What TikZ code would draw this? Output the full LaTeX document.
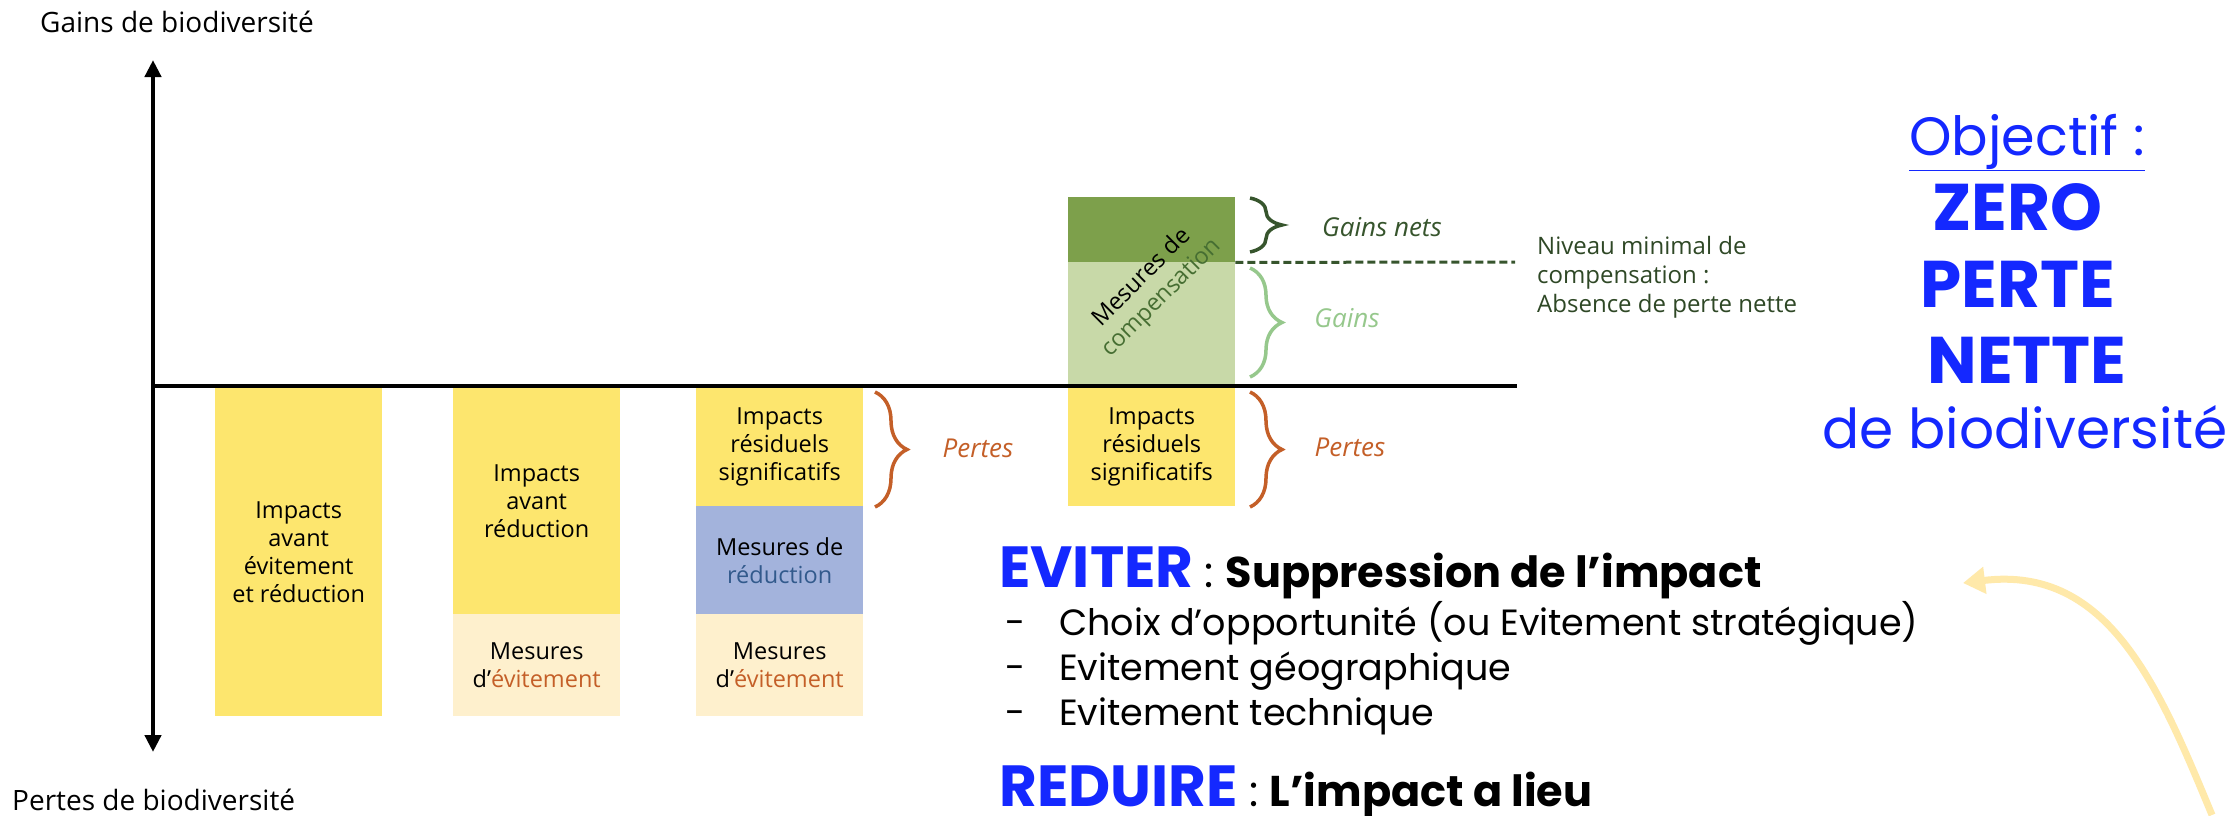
\documentclass[tikz,border=0pt]{standalone}
\usepackage{fontspec}
\setmainfont{Open Sans}
\newfontfamily\popfont{Poppins}
\usepackage{xcolor}
\usetikzlibrary{arrows.meta}
\usetikzlibrary{decorations.pathreplacing}
\usetikzlibrary{positioning}
\definecolor{jaune}{RGB}{253,230,110}
\definecolor{creme}{RGB}{254,240,205}
\definecolor{bleured}{RGB}{163,179,220}
\definecolor{bleutxt}{RGB}{50,90,140}
\definecolor{vertfonce}{RGB}{125,160,75}
\definecolor{vertclair}{RGB}{200,217,168}
\definecolor{vertcomp}{RGB}{70,110,50}
\definecolor{vertnet}{RGB}{55,85,45}
\definecolor{vertgain}{RGB}{150,200,140}
\definecolor{brique}{RGB}{196,95,40}
\definecolor{bleuobj}{RGB}{20,40,255}
\definecolor{flecheJ}{RGB}{255,233,170}
\tikzstyle{barre}=[rectangle,align=center,inner sep=0,minimum width=167,anchor=north west,font=\fontsize{23.5}{28}\selectfont]
\tikzstyle{axe}=[draw,line width=4.5,black,>={Triangle[length=17pt,width=16pt]}]
\tikzstyle{accolade}=[draw,line width=3.5,decorate,decoration={brace,amplitude=32pt}]
\tikzstyle{etiq}=[font=\fontsize{26}{30}\selectfont\itshape]
\tikzstyle{axetxt}=[font=\fontsize{28}{32}\selectfont,anchor=base west,inner sep=0]
\tikzstyle{niveau}=[draw,line width=3,vertnet,dash pattern=on 8pt off 4pt]
\tikzstyle{objectif}=[text=bleuobj,anchor=base,inner sep=0]
\tikzstyle{titre}=[anchor=base west,inner sep=0,font=\popfont\fontsize{43}{48}\selectfont]
\tikzstyle{liste}=[anchor=base west,inner sep=0,font=\popfont\fontsize{36.5}{42}\selectfont]
\tikzstyle{fleche}=[draw,line width=7,flecheJ,>={Triangle[length=22pt,width=26pt]}]

\begin{document}
\begin{tikzpicture}[x=1pt,y=-1pt]
\useasboundingbox[fill=white] (0,0) rectangle (2238,815);
\begin{scope}
	\coordinate (haut) at (153,60);
	\coordinate (bas) at (153,752);
	\coordinate (orig) at (153,386);
	\coordinate (fin) at (1517,386);
	\coordinate (seuil) at (1515,262);

	\node[axetxt] (gains) at (40,32) {Gains de biodiversité};
	\node[axetxt] (pertes) at (12,810) {Pertes de biodiversité};

	\node[barre,fill=jaune,minimum height=328] (b1) at (215,388) {Impacts\\avant\\évitement\\et réduction};

	\node[barre,fill=jaune,minimum height=226] (b2i) at (453,388) {Impacts\\avant\\réduction};
	\node[barre,fill=creme,minimum height=102] (b2e) at (453,614) {Mesures\\d’{\color{brique}évitement}};

	\node[barre,fill=jaune,minimum height=118] (b3i) at (696,388) {Impacts\\résiduels\\significatifs};
	\node[barre,fill=bleured,minimum height=108] (b3r) at (696,506) {Mesures de\\{\color{bleutxt}réduction}};
	\node[barre,fill=creme,minimum height=102] (b3e) at (696,614) {Mesures\\d’{\color{brique}évitement}};

	\node[barre,fill=vertfonce,minimum height=65] (b4n) at (1068,197) {};
	\node[barre,fill=vertclair,minimum height=124] (b4g) at (1068,262) {};
	\node[barre,fill=jaune,minimum height=118] (b4i) at (1068,388) {Impacts\\résiduels\\significatifs};
	\node[rotate=45,align=center,font=\fontsize{23.5}{28}\selectfont] (comp) at (1152,288) {Mesures de\\{\color{vertcomp}compensation}};

	\path[axe,<->] (haut) -- (bas);
	\path[axe] (orig) -- (fin);
	\path[niveau] (b4n.south east) -- (seuil);

	\path[accolade,brique] (875,392) -- (875,507);
	\path[accolade,vertnet] (1250,198) -- (1250,252);
	\path[accolade,vertgain] (1250,268) -- (1250,377);
	\path[accolade,brique] (1250,392) -- (1250,507);

	\node[etiq,text=brique] (lp3) at (978,448) {Pertes};
	\node[etiq,text=vertnet] (lgn) at (1382,227) {Gains nets};
	\node[etiq,text=vertgain] (lg) at (1347,318) {Gains};
	\node[etiq,text=brique] (lp4) at (1350,447) {Pertes};
	\node[anchor=west,align=left,inner sep=0,text=vertnet!85!black,font=\fontsize{24}{29}\selectfont] (niv) at (1537,277) {Niveau minimal de\\compensation :\\Absence de perte nette};
\end{scope}
\begin{scope}
	\node[objectif,font=\popfont\fontsize{54}{60}\selectfont] (obj) at (2027,155) {\underline{Objectif :}};
	\node[objectif,font=\popfont\bfseries\fontsize{66}{70}\selectfont] (zero) at (2017,230) {ZERO};
	\node[objectif,font=\popfont\bfseries\fontsize{66}{70}\selectfont] (perte) at (2018,307) {PERTE};
	\node[objectif,font=\popfont\bfseries\fontsize{66}{70}\selectfont] (nette) at (2027,383) {NETTE};
	\node[objectif,font=\popfont\fontsize{55}{60}\selectfont] (debio) at (2025,448) {de biodiversité};

	\node[titre] (eviter) at (999,587) {{\bfseries\color{bleuobj}\fontsize{58}{62}\selectfont EVITER} : \textbf{Suppression de l’impact}};
	\node[liste] (t1) at (1005,635) {-};
	\node[liste] (c1) at (1059,635) {Choix d’opportunité (ou Evitement stratégique)};
	\node[liste] (t2) at (1005,680) {-};
	\node[liste] (c2) at (1059,680) {Evitement géographique};
	\node[liste] (t3) at (1005,725) {-};
	\node[liste] (c3) at (1059,725) {Evitement technique};
	\node[titre] (reduire) at (999,806) {{\bfseries\color{bleuobj}\fontsize{58}{62}\selectfont REDUIRE} : \textbf{L’impact a lieu}};

	\coordinate (depart) at (2212,815);
	\coordinate (pointe) at (1963,583);
	\path[fleche,->] (depart) .. controls (2160,690) and (2110,565) .. (pointe);
\end{scope}
\end{tikzpicture}
\end{document}
